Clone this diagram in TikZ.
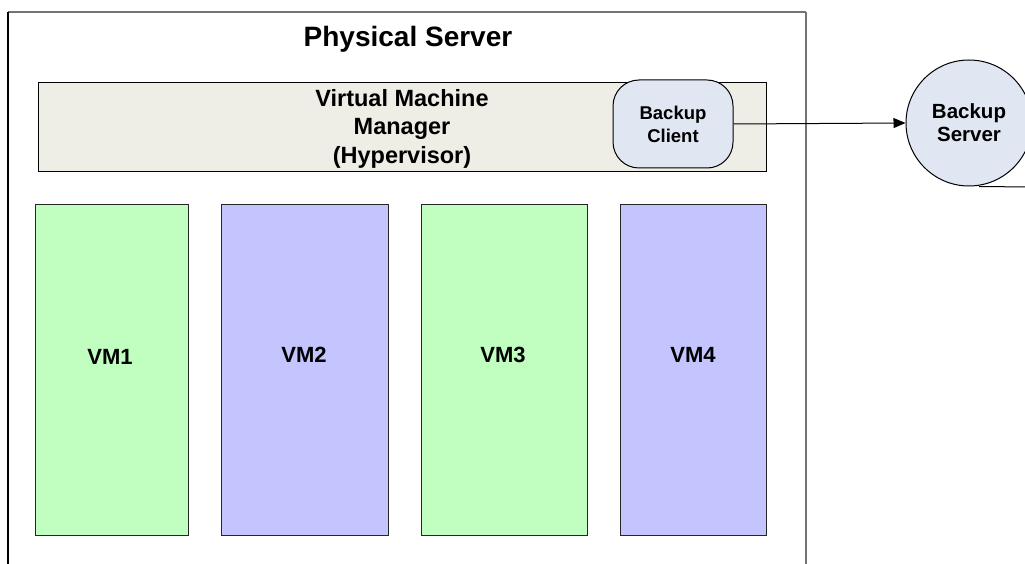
\documentclass[tikz,border=0pt]{standalone}
\usepackage{fontspec}
\setmainfont{Liberation Sans}
\usetikzlibrary{arrows.meta}
\definecolor{hvfill}{RGB}{238,238,230}
\definecolor{bkfill}{RGB}{224,230,242}
\definecolor{vmgreen}{RGB}{192,255,192}
\definecolor{vmblue}{RGB}{196,196,255}
\tikzset{
  lbl/.style={font=\bfseries, align=center, inner sep=0pt},
  vmbox/.style={draw=black!85, line width=1pt, anchor=north west, inner sep=0pt},
  frame/.style={line width=1.5pt},
}
\begin{document}
\begin{tikzpicture}[x=1pt,y=-1pt]
\useasboundingbox (0,0) rectangle (1025,564);
\fill[white] (0,0) rectangle (1025,564);

% physical server frame (open at the bottom)
\draw[frame, black!55] (8,12) -- (806,12);
\draw[frame, black] (8,12) -- (8,570);
\draw[frame, black!55] (806,12) -- (806,570);
\node[lbl, font=\bfseries\fontsize{28}{32}\selectfont] (ps) at (408,39) {Physical Server};

% hypervisor bar
\node[draw=black, line width=1pt, fill=hvfill, anchor=north west, inner sep=0pt,
      minimum width=728pt, minimum height=89pt] (hv) at (38,82) {};
\node[lbl, font=\bfseries\fontsize{23.5}{28.5}\selectfont] (hvt) at (402,128.5)
  {Virtual Machine\\Manager\\(Hypervisor)};

% backup client
\node[draw=black, line width=1pt, fill=bkfill, rounded corners=26pt,
      minimum width=120pt, minimum height=88pt, lbl,
      font=\bfseries\fontsize{18.5}{23}\selectfont] (bc) at (673,124) {Backup\\Client};

% backup server
\node[draw=black, line width=1pt, fill=bkfill, circle, minimum size=126pt, lbl,
      font=\bfseries\fontsize{20.5}{23}\selectfont] (bs) at (969,123) {Backup\\Server};
\coordinate (bsr) at (1030,187);
\draw[black, line width=1pt] (bs.south) ++(10pt,0) coordinate (bsb) -- (bsr);

\draw[-{Triangle[length=12pt,width=10pt]}, line width=1pt] (bc.east) -- (bs.west);

% virtual machines
\node[vmbox, fill=vmgreen, minimum width=153pt, minimum height=331pt] (vm1) at (35,204) {};
\node[vmbox, fill=vmblue,  minimum width=167pt, minimum height=331pt] (vm2) at (221,204) {};
\node[vmbox, fill=vmgreen, minimum width=166pt, minimum height=331pt] (vm3) at (421,204) {};
\node[vmbox, fill=vmblue,  minimum width=146pt, minimum height=331pt] (vm4) at (620,204) {};
\node[lbl, font=\bfseries\fontsize{22}{26}\selectfont] (l1) at (110,357) {VM1};
\node[lbl, font=\bfseries\fontsize{22}{26}\selectfont] (l2) at (304,355) {VM2};
\node[lbl, font=\bfseries\fontsize{22}{26}\selectfont] (l3) at (503,355) {VM3};
\node[lbl, font=\bfseries\fontsize{22}{26}\selectfont] (l4) at (693,355) {VM4};
\end{tikzpicture}
\end{document}
